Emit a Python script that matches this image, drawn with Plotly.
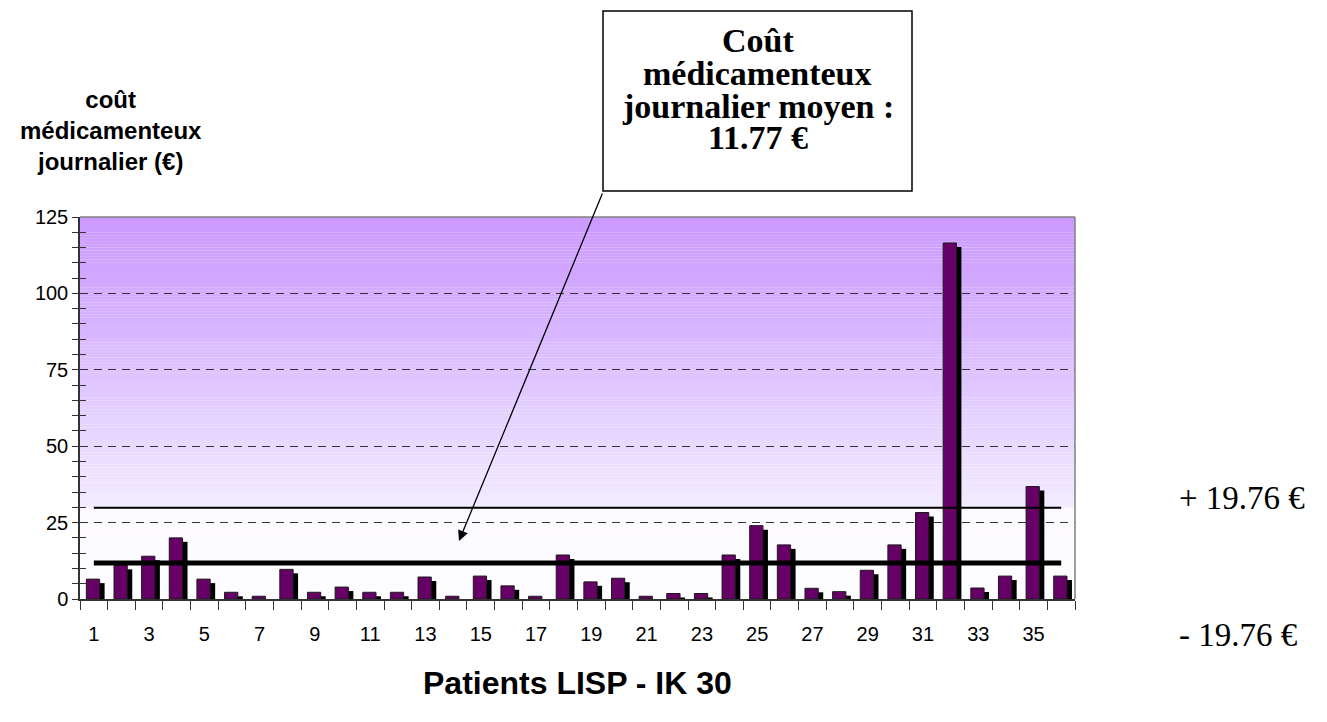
import plotly.graph_objects as go

# ---------------- data ----------------
patients = list(range(1, 37))
cost = [6.5, 11, 14, 20, 6.5, 2.2, 0.9, 9.7, 2.2, 3.9, 2.2, 2.2, 7.2, 0.9,
        7.5, 4.3, 0.9, 14.4, 5.6, 6.8, 0.9, 1.8, 1.8, 14.4, 24, 17.7, 3.5,
        2.4, 9.4, 17.7, 28.3, 116.5, 3.6, 7.5, 36.8, 7.5]
mean_cost = 11.77
sd_cost = 19.76
upper_line = 29.9
y_ticks = [0, 25, 50, 75, 100, 125]
x_tick_labels = list(range(1, 37, 2))

# ---------------- geometry helpers (pixels -> paper) ----------------
W, H = 1327, 722
L, R, T, B = 72, 260, 209, 131
PW, PH = W - L - R, H - T - B


def px(x):
    return (x - L) / PW


def py(y):
    return (H - B - y) / PH


SANS = "Liberation Sans, Arial, sans-serif"
SERIF = "Liberation Serif, Times New Roman, serif"

bar_w = 0.48
bar_off = -0.27
shadow_dx = 0.18
shadow_dy = 1.3

fig = go.Figure()

# shadow bars
fig.add_trace(go.Bar(x=patients, y=cost, base=-shadow_dy, offset=bar_off + shadow_dx,
                     width=bar_w, marker=dict(color="black", line=dict(width=0)),
                     hoverinfo="skip", showlegend=False))
# main bars
fig.add_trace(go.Bar(x=patients, y=cost, offset=bar_off, width=bar_w,
                     marker=dict(color="#660066", line=dict(color="#1a1a1a", width=1)),
                     showlegend=False))
# upper band line
fig.add_trace(go.Scatter(x=[patients[0], patients[-1]], y=[upper_line, upper_line],
                         mode="lines", line=dict(color="black", width=2),
                         hoverinfo="skip", showlegend=False))
# mean line
fig.add_trace(go.Scatter(x=[patients[0], patients[-1]], y=[mean_cost, mean_cost],
                         mode="lines", line=dict(color="black", width=5),
                         hoverinfo="skip", showlegend=False))
# dummy trace for overlay axis (inside ticks)
fig.add_trace(go.Scatter(x=[None], y=[None], yaxis="y2", showlegend=False, hoverinfo="skip"))

# ---------------- gradient background ----------------
stops = [(0, (250, 249, 255)), (30, (242, 236, 255)), (50, (233, 218, 255)),
         (75, (221, 194, 255)), (100, (211, 171, 255)), (125, (204, 153, 255))]


def grad(v):
    for (a, ca), (b, cb) in zip(stops[:-1], stops[1:]):
        if a <= v <= b:
            t = (v - a) / (b - a)
            return tuple(ca[i] + (cb[i] - ca[i]) * t for i in range(3))
    return stops[-1][1]


shapes = []
n = 125
step = 125 / n
for i in range(n):
    y0 = i * step
    y1 = y0 + step
    mid = (y0 + y1) / 2
    c = grad(mid)
    if mid < upper_line:
        c = tuple(ci + (255 - ci) * 0.7 for ci in c)
    col = "rgb(%d,%d,%d)" % tuple(round(ci) for ci in c)
    shapes.append(dict(type="rect", xref="paper", yref="y", x0=0, x1=1, y0=y0, y1=y1 + 0.05,
                       fillcolor=col, line=dict(width=0), layer="below"))

# top & right plot border (gray)
shapes.append(dict(type="line", xref="paper", yref="paper", x0=0, x1=1, y0=1, y1=1,
                   line=dict(color="#808080", width=1.5), layer="above"))
shapes.append(dict(type="line", xref="paper", yref="paper", x0=1, x1=1, y0=0, y1=1,
                   line=dict(color="#808080", width=1.5), layer="above"))

# annotation box
BOX_X0, BOX_X1, BOX_TOP, BOX_BOT = 595, 904, 3, 183
shapes.append(dict(type="rect", xref="paper", yref="paper",
                   x0=px(BOX_X0), x1=px(BOX_X1), y0=py(BOX_BOT), y1=py(BOX_TOP),
                   fillcolor="white", line=dict(color="black", width=1.5), layer="above"))

annotations = []
box_lines = ["Coût", "médicamenteux", "journalier moyen :", f"{mean_cost:.2f} €"]
box_y = [33, 65, 98, 129]
for txt, yy in zip(box_lines, box_y):
    annotations.append(dict(xref="paper", yref="paper", x=px((BOX_X0 + BOX_X1) / 2), y=py(yy),
                            text=f"<b>{txt}</b>", showarrow=False, xanchor="center",
                            yanchor="middle", font=dict(family=SERIF, size=34, color="black")))

# arrow from box corner to mean line
HEAD = (451, 533)
annotations.append(dict(xref="paper", yref="paper", x=px(HEAD[0]), y=py(HEAD[1]), text="",
                        showarrow=True, ax=BOX_X0 - HEAD[0], ay=BOX_BOT + 1 - HEAD[1],
                        axref="pixel", ayref="pixel",
                        arrowhead=2, arrowsize=1.6, arrowwidth=1.3, arrowcolor="black",
                        standoff=0, startstandoff=0))

# y-axis title
annotations.append(dict(xref="paper", yref="paper", x=px(103), y=py(122),
                        text="<b>coût<br>médicamenteux<br>journalier (€)</b>",
                        showarrow=False, xanchor="center", yanchor="middle", align="center",
                        font=dict(family=SANS, size=24, color="black")))
# x-axis title
annotations.append(dict(xref="paper", yref="paper", x=px(569), y=py(675),
                        text="<b>Patients LISP - IK 30</b>", showarrow=False,
                        xanchor="center", yanchor="middle",
                        font=dict(family=SANS, size=32, color="black")))
# band labels
annotations.append(dict(xref="paper", yref="paper", x=px(1169), y=py(490),
                        text=f"+ {sd_cost:.2f} €", showarrow=False, xanchor="left", yanchor="middle",
                        font=dict(family=SERIF, size=33, color="black")))
annotations.append(dict(xref="paper", yref="paper", x=px(1169), y=py(627),
                        text=f"- {sd_cost:.2f} €", showarrow=False, xanchor="left", yanchor="middle",
                        font=dict(family=SERIF, size=33, color="black")))

boundaries = [p - 0.5 for p in patients] + [patients[-1] + 0.5]

fig.update_layout(
    width=W, height=H,
    margin=dict(l=L, r=R, t=T, b=B, pad=0),
    paper_bgcolor="white", plot_bgcolor="white",
    barmode="overlay", showlegend=False,
    shapes=shapes, annotations=annotations,
    xaxis=dict(range=[0.5, 36.5], tickmode="array", tickvals=x_tick_labels,
               ticktext=[str(v) for v in x_tick_labels], ticks="",
               showline=True, linecolor="#333333", linewidth=1.5,
               showgrid=False, zeroline=False,
               minor=dict(tickmode="array", tickvals=boundaries, ticks="outside",
                          ticklen=9, tickcolor="#333333", tickwidth=1, showgrid=False),
               tickfont=dict(family=SANS, size=20, color="black"),
               ticklabelstandoff=16),
    yaxis=dict(range=[0, 125], tickmode="array", tickvals=y_ticks,
               ticks="outside", ticklen=6, tickcolor="#333333", tickwidth=1,
               showline=True, linecolor="#333333", linewidth=1.5,
               showgrid=True, gridcolor="#333333", gridwidth=1, griddash="8px,6px",
               zeroline=False,
               minor=dict(dtick=5, ticks="outside", ticklen=6, tickcolor="#333333",
                          tickwidth=1, showgrid=False),
               tickfont=dict(family=SANS, size=20, color="black"),
               ticklabelstandoff=0),
    yaxis2=dict(range=[0, 125], overlaying="y", side="left", ticks="inside",
                tickmode="linear", tick0=0, dtick=5, ticklen=6, tickcolor="#333333",
                showticklabels=False, showgrid=False, showline=False, zeroline=False),
)

fig.write_html("out.html")
